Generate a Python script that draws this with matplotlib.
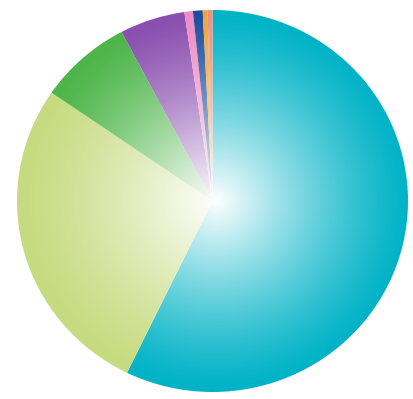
import numpy as np
import matplotlib.pyplot as plt
from matplotlib.patches import Circle

# Slice shares (percent), clockwise from 12 o'clock
labels = ['Teal', 'Lime', 'Green', 'Purple', 'Pink', 'Blue', 'Orange', 'Salmon']
shares = [57.2, 27.4, 7.7, 5.4, 0.7, 0.8, 0.4, 0.4]
colors = ['#00B2C6', '#C6DB80', '#4DB54A', '#8A4FB0', '#F08CC4', '#1E4C9C', '#F2A43A', '#E8957E']

fig = plt.figure(figsize=(4.14, 3.99), dpi=100)
ax = fig.add_axes([17 / 414, 7 / 399, 391 / 414, 382 / 399])

wedges, _ = ax.pie(shares, colors=colors, startangle=90, counterclock=False,
                   radius=1.0, wedgeprops=dict(linewidth=0))
ax.set_aspect('auto')
ax.set_xlim(-1, 1)
ax.set_ylim(-1, 1)
ax.axis('off')

# White radial glow over the pie, fading out towards the rim
n = 400
xs = np.linspace(-1, 1, n)
X, Y = np.meshgrid(xs, xs)
r = np.hypot(X - 0.02, Y)
alpha = np.clip(1 - r / 1.0, 0, 1) ** 1.25
glow = np.ones((n, n, 4))
glow[..., 3] = alpha
im = ax.imshow(glow, extent=(-1, 1, -1, 1), origin='lower', zorder=5,
               interpolation='bilinear', aspect='auto')
im.set_clip_path(Circle((0, 0), 1.0, transform=ax.transData))

fig.savefig('out.png', dpi=100)
